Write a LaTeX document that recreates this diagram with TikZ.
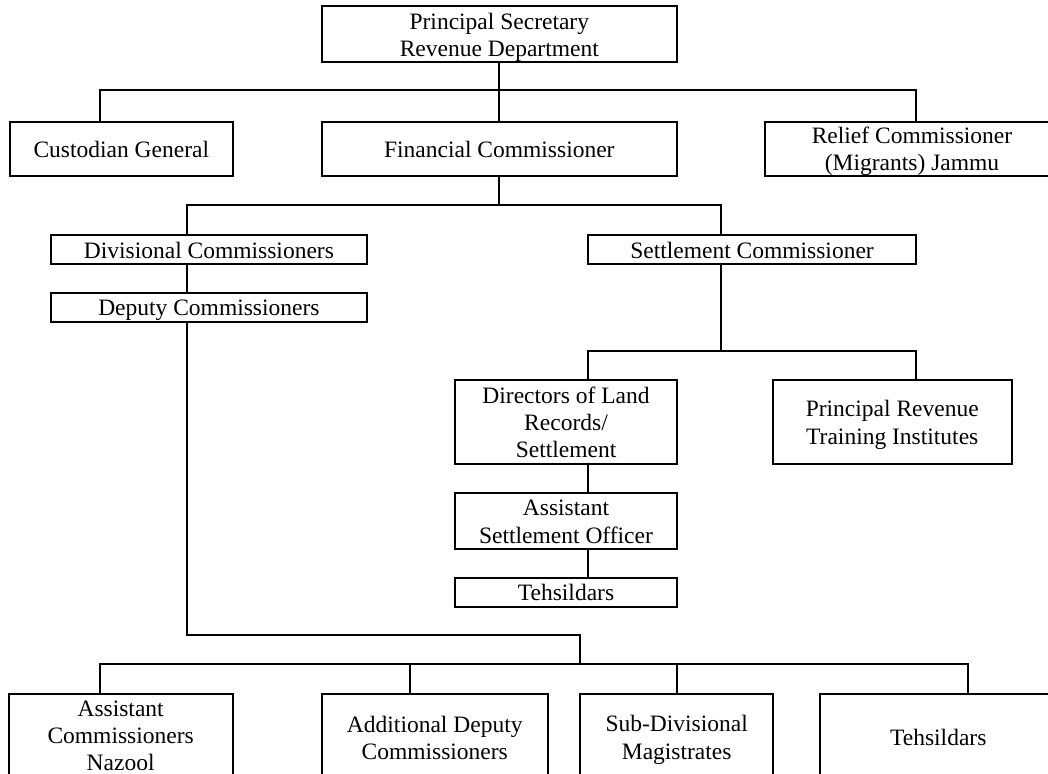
\documentclass[tikz,border=0pt]{standalone}
\usepackage{fontspec}
\setmainfont{Liberation Serif}
\newcommand\ws{\rule[-5pt]{0pt}{27pt}}
\begin{document}
\begin{tikzpicture}[x=1pt,y=-1pt,
  box/.style={draw, line width=2pt, inner sep=0pt, align=center,
    font=\fontsize{23.5}{27.3}\selectfont},
  conn/.style={draw, line width=2pt, line cap=rect}]
\useasboundingbox (0,0) rectangle (1048,773);
\clip (0,0) rectangle (1048,773);
% nodes
\node[box, minimum width=355.5pt, minimum height=56pt] (ps) at (499.3,34.2) {\ws Principal Secretary\\\ws Revenue Department};
\node[box, minimum width=222.6pt, minimum height=54.3pt] (cg) at (121.3,148.85) {\ws Custodian General};
\node[box, minimum width=355.5pt, minimum height=54.3pt] (fc) at (499.3,148.85) {\ws Financial Commissioner};
\node[box, minimum width=294pt, minimum height=54.3pt] (rc) at (912,148.85) {\ws Relief Commissioner\\\ws (Migrants) Jammu};
\node[box, minimum width=316.2pt, minimum height=29.3pt] (div) at (208.9,249.65) {\ws Divisional Commissioners};
\node[box, minimum width=328.9pt, minimum height=29.3pt] (sc) at (752,249.65) {\ws Settlement Commissioner};
\node[box, minimum width=316.2pt, minimum height=29.6pt] (dep) at (208.9,307.5) {\ws Deputy Commissioners};
\node[box, minimum width=222pt, minimum height=84pt] (dir) at (566,422) {\ws Directors of Land\\\ws Records/\\\ws Settlement};
\node[box, minimum width=238.9pt, minimum height=84pt] (prti) at (892.25,422) {\ws Principal Revenue\\\ws Training Institutes};
\node[box, minimum width=222pt, minimum height=56.3pt] (aso) at (566,520.85) {\ws Assistant\\\ws Settlement Officer};
\node[box, minimum width=222pt, minimum height=29pt] (teha) at (566,592.2) {\ws Tehsildars};
\node[box, minimum width=223.9pt, minimum height=81.7pt] (b1) at (120.65,735.15) {\ws Assistant\\\ws Commissioners\\\ws Nazool};
\node[box, minimum width=226.5pt, minimum height=85.7pt] (b2) at (434.75,737.15) {\ws Additional Deputy\\\ws Commissioners};
\node[box, minimum width=193.4pt, minimum height=85.7pt] (b3) at (676.7,737.15) {\ws Sub-Divisional\\\ws Magistrates};
\node[box, minimum width=237.5pt, minimum height=85.7pt] (b4) at (938.25,737.15) {\ws Tehsildars};
% junction coordinates
\coordinate (t1) at (100,90);
\coordinate (t2) at (916,90);
\coordinate (u1) at (186.5,205);
\coordinate (u2) at (720.6,205);
\coordinate (v1) at (588,351);
\coordinate (v2) at (916,351);
\coordinate (w1) at (186.5,635);
\coordinate (w2) at (580,635);
\coordinate (x1) at (100,664.3);
\coordinate (x2) at (410.4,664.3);
\coordinate (x3) at (676.5,664.3);
\coordinate (x4) at (968,664.3);
% connectors
\draw[conn] (t1) -- (t2);
\draw[conn] (ps.south) -- (ps.south |- t1);
\draw[conn] (t1) -- (t1 |- cg.north);
\draw[conn] (fc.north |- t1) -- (fc.north);
\draw[conn] (t2) -- (t2 |- rc.north);
\draw[conn] (u1) -- (u2);
\draw[conn] (fc.south) -- (fc.south |- u1);
\draw[conn] (u1) -- (u1 |- div.north);
\draw[conn] (u2) -- (u2 |- sc.north);
\draw[conn] (u1 |- div.south) -- (u1 |- dep.north);
\draw[conn] (u2 |- sc.south) -- (u2 |- v1);
\draw[conn] (v1) -- (v2);
\draw[conn] (v1) -- (v1 |- dir.north);
\draw[conn] (v2) -- (v2 |- prti.north);
\draw[conn] (v1 |- dir.south) -- (v1 |- aso.north);
\draw[conn] (v1 |- aso.south) -- (v1 |- teha.north);
\draw[conn] (u1 |- dep.south) -- (w1) -- (w2) -- (w2 |- x1);
\draw[conn] (x1) -- (x4);
\draw[conn] (x1) -- (x1 |- b1.north);
\draw[conn] (x2) -- (x2 |- b2.north);
\draw[conn] (x3) -- (x3 |- b3.north);
\draw[conn] (x4) -- (x4 |- b4.north);
\end{tikzpicture}
\end{document}
